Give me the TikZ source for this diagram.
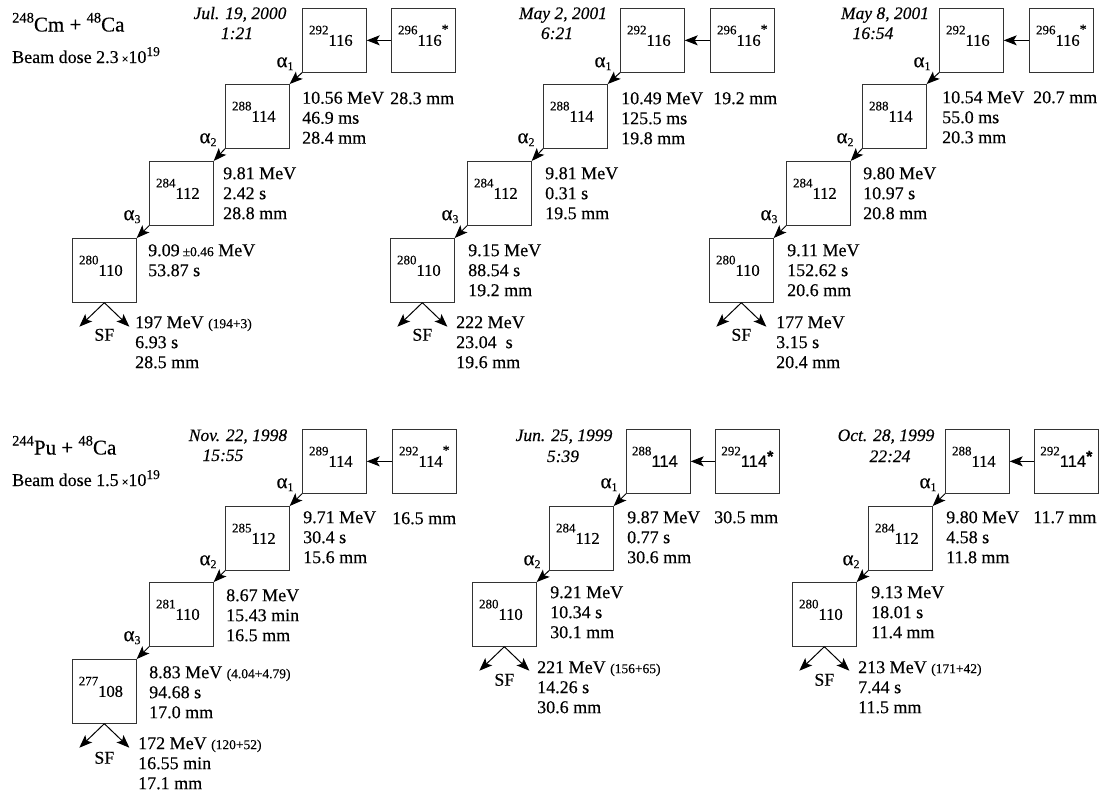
\documentclass[tikz,border=0pt]{standalone}
\usepackage{fontspec}
\setmainfont{Liberation Serif}[UprightFeatures={FakeBold=0.35},ItalicFeatures={FakeBold=0.35}]
\newfontfamily\sansf{Liberation Sans}[FakeBold=0.35]
\usetikzlibrary{arrows.meta}
\newcommand\nuc[2]{\raisebox{11.5pt}{\fontsize{13}{13}\selectfont #1}#2}
\newcommand\nucS[2]{\raisebox{11.5pt}{\fontsize{13}{13}\selectfont #1}{\sansf #2}}
\newcommand\stR{\raisebox{12pt}{\fontsize{14}{14}\selectfont *}}
\newcommand\stB{\raisebox{5pt}{\fontsize{16}{16}\selectfont\sansf\bfseries *}}
\newcommand\lab[1]{\raisebox{-5.5pt}[0pt][0pt]{#1}}
\newcommand\smf[1]{{\fontsize{13.5}{13.5}\selectfont #1}}
\newcommand\alp[1]{{\fontsize{21}{21}\selectfont α}\raisebox{-3pt}{\fontsize{12}{12}\selectfont #1}}
\newcommand\ttl[3]{\raisebox{9pt}{\fontsize{14.5}{14.5}\selectfont #1}#2 + \raisebox{9pt}{\fontsize{14.5}{14.5}\selectfont 48}Ca}
\newcommand\dose[1]{Beam dose #1\,{\fontsize{12}{12}\selectfont ×}10\raisebox{7pt}{\fontsize{13.5}{13.5}\selectfont 19}}
\begin{document}
\begin{tikzpicture}[x=1pt,y=-1pt,
  nbox/.style={draw=black!80, line width=1.2pt, minimum width=63.5pt, minimum height=63.5pt,
    inner sep=0pt, anchor=north west, font=\fontsize{16.5}{18}\selectfont},
  arr/.style={line width=1pt, -{Stealth[length=13pt,width=10pt,inset=3pt]}},
  dat/.style={anchor=north west, align=left, inner sep=0pt, font=\fontsize{18}{20}\selectfont},
  dt/.style={anchor=base, inner sep=0pt, font=\fontsize{17.5}{20}\selectfont\itshape},
  alab/.style={inner sep=0pt},
  sflab/.style={anchor=base, inner sep=0pt, font=\fontsize{18}{20}\selectfont},
  ttlab/.style={anchor=base west, inner sep=0pt, font=\fontsize{21}{22}\selectfont},
  dslab/.style={anchor=base west, inner sep=0pt, font=\fontsize{18}{20}\selectfont}]
\useasboundingbox (0,0) rectangle (1100,796);

% ================= Group A (top left) =================
\node[ttlab] (ta) at (12,31.5) {\ttl{248}{Cm}{}};
\node[dslab] (da) at (12,63) {\dose{2.3}};
\node[dt] (a-date) at (240,19) {Jul. 19, 2000};
\node[dt] (a-time) at (237,39) {1:21};
\node[nbox] (a0) at (302,8) {\lab{\nuc{292}{116}\hspace*{7pt}}};
\node[nbox] (ap) at (391,8) {\lab{\nuc{296}{116}\stR}};
\node[nbox] (a1) at (225,84) {\lab{\nuc{288}{114}\hspace*{7pt}}};
\node[nbox] (a2) at (149,161) {\lab{\nuc{284}{112}\hspace*{7pt}}};
\node[nbox] (a3) at (72,238) {\lab{\nuc{280}{110}\hspace*{7pt}}};
\draw[arr] (ap.west) -- (a0.east);
\draw[arr] (a0.south west) -- (a1.north east);
\draw[arr] (a1.south west) -- (a2.north east);
\draw[arr] (a2.south west) -- (a3.north east);
\coordinate (a3l) at ([shift={(-25,24)}]a3.south);
\coordinate (a3r) at ([shift={(25,24)}]a3.south);
\draw[arr] (a3.south) -- (a3l);
\draw[arr] (a3.south) -- (a3r);
\node[sflab] (a3s) at ([shift={(0,38)}]a3.south) {SF};
\node[alab] (a0a) at ([shift={(-17,-9)}]a0.south west) {\alp{1}};
\node[alab] (a1a) at ([shift={(-17,-9)}]a1.south west) {\alp{2}};
\node[alab] (a2a) at ([shift={(-17,-9)}]a2.south west) {\alp{3}};
\node[dat] (a0d) at (302,91.5) {10.56 MeV\\46.9 ms\\28.4 mm};
\node[dat] (apd) at (390,92) {28.3 mm};
\node[dat] (a1d) at (223,167) {9.81 MeV\\2.42 s\\28.8 mm};
\node[dat] (a2d) at (148,244) {9.09\,\smf{±0.46} MeV\\53.87 s};
\node[dat] (a3d) at (135,316) {197 MeV \smf{(194+3)}\\6.93 s\\28.5 mm};

% ================= Group B (top middle) =================
\node[dt] (b-date) at (563,19) {May 2, 2001};
\node[dt] (b-time) at (557,39) {6:21};
\node[nbox] (b0) at (620,8) {\lab{\nuc{292}{116}\hspace*{7pt}}};
\node[nbox] (bp) at (710,8) {\lab{\nuc{296}{116}\stR}};
\node[nbox] (b1) at (543,84) {\lab{\nuc{288}{114}\hspace*{7pt}}};
\node[nbox] (b2) at (467,161) {\lab{\nuc{284}{112}\hspace*{7pt}}};
\node[nbox] (b3) at (390,238) {\lab{\nuc{280}{110}\hspace*{7pt}}};
\draw[arr] (bp.west) -- (b0.east);
\draw[arr] (b0.south west) -- (b1.north east);
\draw[arr] (b1.south west) -- (b2.north east);
\draw[arr] (b2.south west) -- (b3.north east);
\coordinate (b3l) at ([shift={(-25,24)}]b3.south);
\coordinate (b3r) at ([shift={(25,24)}]b3.south);
\draw[arr] (b3.south) -- (b3l);
\draw[arr] (b3.south) -- (b3r);
\node[sflab] (b3s) at ([shift={(0,38)}]b3.south) {SF};
\node[alab] (b0a) at ([shift={(-17,-9)}]b0.south west) {\alp{1}};
\node[alab] (b1a) at ([shift={(-17,-9)}]b1.south west) {\alp{2}};
\node[alab] (b2a) at ([shift={(-17,-9)}]b2.south west) {\alp{3}};
\node[dat] (b0d) at (621,92) {10.49 MeV\\125.5 ms\\19.8 mm};
\node[dat] (bpd) at (713,92) {19.2 mm};
\node[dat] (b1d) at (545,167) {9.81 MeV\\0.31 s\\19.5 mm};
\node[dat] (b2d) at (468,244) {9.15 MeV\\88.54 s\\19.2 mm};
\node[dat] (b3d) at (456,316) {222 MeV\\23.04\ \ s\\19.6 mm};

% ================= Group C (top right) =================
\node[dt] (c-date) at (885,19) {May 8, 2001};
\node[dt] (c-time) at (873,39) {16:54};
\node[nbox] (c0) at (939,8) {\lab{\nuc{292}{116}\hspace*{7pt}}};
\node[nbox] (cp) at (1029,8) {\lab{\nuc{296}{116}\stR}};
\node[nbox] (c1) at (862,84) {\lab{\nuc{288}{114}\hspace*{7pt}}};
\node[nbox] (c2) at (786,161) {\lab{\nuc{284}{112}\hspace*{7pt}}};
\node[nbox] (c3) at (709,238) {\lab{\nuc{280}{110}\hspace*{7pt}}};
\draw[arr] (cp.west) -- (c0.east);
\draw[arr] (c0.south west) -- (c1.north east);
\draw[arr] (c1.south west) -- (c2.north east);
\draw[arr] (c2.south west) -- (c3.north east);
\coordinate (c3l) at ([shift={(-25,24)}]c3.south);
\coordinate (c3r) at ([shift={(25,24)}]c3.south);
\draw[arr] (c3.south) -- (c3l);
\draw[arr] (c3.south) -- (c3r);
\node[sflab] (c3s) at ([shift={(0,38)}]c3.south) {SF};
\node[alab] (c0a) at ([shift={(-17,-9)}]c0.south west) {\alp{1}};
\node[alab] (c1a) at ([shift={(-17,-9)}]c1.south west) {\alp{2}};
\node[alab] (c2a) at ([shift={(-17,-9)}]c2.south west) {\alp{3}};
\node[dat] (c0d) at (942,91) {10.54 MeV\\55.0 ms\\20.3 mm};
\node[dat] (cpd) at (1033,91) {20.7 mm};
\node[dat] (c1d) at (863,167) {9.80 MeV\\10.97 s\\20.8 mm};
\node[dat] (c2d) at (787,244) {9.11 MeV\\152.62 s\\20.6 mm};
\node[dat] (c3d) at (776,316) {177 MeV\\3.15 s\\20.4 mm};

% ================= Group D (bottom left) =================
\node[ttlab] (td) at (12,454.5) {\ttl{244}{Pu}{}};
\node[dslab] (dd) at (12,486) {\dose{1.5}};
\node[dt] (d-date) at (238,441) {Nov. 22, 1998};
\node[dt] (d-time) at (223,461) {15:55};
\node[nbox] (d0) at (302,429) {\lab{\nuc{289}{114}\hspace*{7pt}}};
\node[nbox] (dp) at (392,429) {\lab{\nuc{292}{114}\stR}};
\node[nbox] (d1) at (225,506) {\lab{\nuc{285}{112}\hspace*{7pt}}};
\node[nbox] (d2) at (149,582) {\lab{\nuc{281}{110}\hspace*{7pt}}};
\node[nbox] (d3) at (72,659) {\lab{\nuc{277}{108}\hspace*{7pt}}};
\draw[arr] (dp.west) -- (d0.east);
\draw[arr] (d0.south west) -- (d1.north east);
\draw[arr] (d1.south west) -- (d2.north east);
\draw[arr] (d2.south west) -- (d3.north east);
\coordinate (d3l) at ([shift={(-25,24)}]d3.south);
\coordinate (d3r) at ([shift={(25,24)}]d3.south);
\draw[arr] (d3.south) -- (d3l);
\draw[arr] (d3.south) -- (d3r);
\node[sflab] (d3s) at ([shift={(0,40)}]d3.south) {SF};
\node[alab] (d0a) at ([shift={(-17,-9)}]d0.south west) {\alp{1}};
\node[alab] (d1a) at ([shift={(-17,-9)}]d1.south west) {\alp{2}};
\node[alab] (d2a) at ([shift={(-17,-9)}]d2.south west) {\alp{3}};
\node[dat] (d0d) at (303,511) {9.71 MeV\\30.4 s\\15.6 mm};
\node[dat] (dpd) at (392,512) {16.5 mm};
\node[dat] (d1d) at (226,589) {8.67 MeV\\15.43 min\\16.5 mm};
\node[dat] (d2d) at (149,666) {8.83 MeV \smf{(4.04+4.79)}\\94.68 s\\17.0 mm};
\node[dat] (d3d) at (138,737) {172 MeV \smf{(120+52)}\\16.55 min\\17.1 mm};

% ================= Group E (bottom middle) =================
\node[dt] (e-date) at (564,441) {Jun. 25, 1999};
\node[dt] (e-time) at (563,462) {5:39};
\node[nbox] (e0) at (626,429) {\lab{\nucS{288}{114}\hspace*{7pt}}};
\node[nbox] (ep) at (715,429) {\lab{\nucS{292}{114}\stB}};
\node[nbox] (e1) at (549,506) {\lab{\nuc{284}{112}\hspace*{7pt}}};
\node[nbox] (e2) at (472,582) {\lab{\nuc{280}{110}\hspace*{7pt}}};
\draw[arr] (ep.west) -- (e0.east);
\draw[arr] (e0.south west) -- (e1.north east);
\draw[arr] (e1.south west) -- (e2.north east);
\coordinate (e2l) at ([shift={(-25,24)}]e2.south);
\coordinate (e2r) at ([shift={(25,24)}]e2.south);
\draw[arr] (e2.south) -- (e2l);
\draw[arr] (e2.south) -- (e2r);
\node[sflab] (e2s) at ([shift={(0,39)}]e2.south) {SF};
\node[alab] (e0a) at ([shift={(-17,-9)}]e0.south west) {\alp{1}};
\node[alab] (e1a) at ([shift={(-17,-9)}]e1.south west) {\alp{2}};
\node[dat] (e0d) at (627,511) {9.87 MeV\\0.77 s\\30.6 mm};
\node[dat] (epd) at (714,511) {30.5 mm};
\node[dat] (e1d) at (550,586) {9.21 MeV\\10.34 s\\30.1 mm};
\node[dat] (e2d) at (537,661) {221 MeV \smf{(156+65)}\\14.26 s\\30.6 mm};

% ================= Group F (bottom right) =================
\node[dt] (f-date) at (886,441) {Oct. 28, 1999};
\node[dt] (f-time) at (890,462) {22:24};
\node[nbox] (f0) at (945,429) {\lab{\nuc{288}{114}\hspace*{7pt}}};
\node[nbox] (fp) at (1034,429) {\lab{\nucS{292}{114}\stB}};
\node[nbox] (f1) at (868,506) {\lab{\nuc{284}{112}\hspace*{7pt}}};
\node[nbox] (f2) at (792,582) {\lab{\nuc{280}{110}\hspace*{7pt}}};
\draw[arr] (fp.west) -- (f0.east);
\draw[arr] (f0.south west) -- (f1.north east);
\draw[arr] (f1.south west) -- (f2.north east);
\coordinate (f2l) at ([shift={(-25,24)}]f2.south);
\coordinate (f2r) at ([shift={(25,24)}]f2.south);
\draw[arr] (f2.south) -- (f2l);
\draw[arr] (f2.south) -- (f2r);
\node[sflab] (f2s) at ([shift={(0,39)}]f2.south) {SF};
\node[alab] (f0a) at ([shift={(-17,-9)}]f0.south west) {\alp{1}};
\node[alab] (f1a) at ([shift={(-17,-9)}]f1.south west) {\alp{2}};
\node[dat] (f0d) at (946,511) {9.80 MeV\\4.58 s\\11.8 mm};
\node[dat] (fpd) at (1033,511) {11.7 mm};
\node[dat] (f1d) at (871,586) {9.13 MeV\\18.01 s\\11.4 mm};
\node[dat] (f2d) at (858,661) {213 MeV \smf{(171+42)}\\7.44 s\\11.5 mm};
\end{tikzpicture}
\end{document}
